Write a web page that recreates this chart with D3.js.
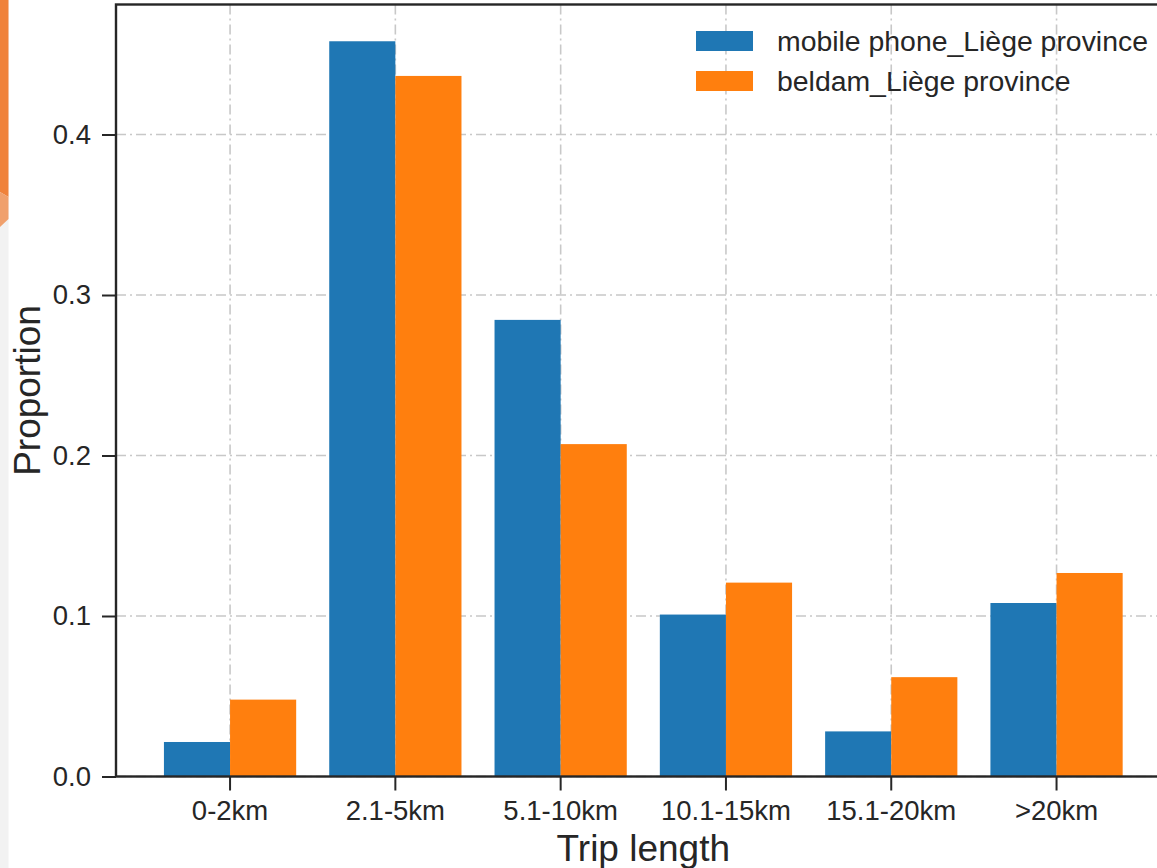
<!DOCTYPE html>
<html>
<head>
<meta charset="utf-8">
<script src="https://cdn.jsdelivr.net/npm/d3@7/dist/d3.min.js"></script>
<style>
  html, body { margin: 0; padding: 0; background: #ffffff; }
  svg { display: block; font-family: "Liberation Sans", Arial, Helvetica, sans-serif; }
</style>
</head>
<body>
<svg id="chart" width="1157" height="868"></svg>
<script>
// Trip length distribution, Liège province
const categories = ["0-2km", "2.1-5km", "5.1-10km", "10.1-15km", "15.1-20km", ">20km"];
const seriesNames = ["mobile phone_Liège province", "beldam_Liège province"];
const mobilePhone = [0.0215, 0.4581, 0.2845, 0.1009, 0.0281, 0.1081];
const beldam = [0.0479, 0.4365, 0.2071, 0.1208, 0.0619, 0.1268];
const yTicks = [0.0, 0.1, 0.2, 0.3, 0.4];
const colors = ["#1f77b4", "#ff7f0e"];

const svg = d3.select("#chart");
const ink = "#262626";

// page edge decoration
svg.append("rect").attr("x", 0).attr("y", 0).attr("width", 8.5).attr("height", 868).attr("fill", "#f2f2f2");
svg.append("polygon").attr("points", "0,0 8.5,0 8.5,197 0,192").attr("fill", "#f0823a");
svg.append("polygon").attr("points", "0,192 8.5,197 8.5,219 0,227").attr("fill", "#f0a06c");

const plot = { left: 116, right: 1170.6, top: 4.5, bottom: 776.5 };

const x = d3.scaleBand()
  .domain(categories)
  .range([plot.left, plot.right])
  .paddingInner(0.2)
  .paddingOuter(0.29);

const xSub = d3.scaleBand()
  .domain(seriesNames)
  .range([0, x.bandwidth()])
  .padding(0);

const yMax = d3.max(mobilePhone.concat(beldam)) * 1.05;
const y = d3.scaleLinear().domain([0, yMax]).range([plot.bottom, plot.top]);

// grid (behind bars)
const grid = svg.append("g").attr("class", "grid")
  .attr("stroke", "#c8c8c8").attr("stroke-width", 1.6).attr("stroke-dasharray", "10,4,2,4");
grid.selectAll("line.h").data(yTicks).join("line").attr("class", "h")
  .attr("x1", plot.left).attr("x2", plot.right)
  .attr("y1", d => y(d)).attr("y2", d => y(d));
grid.selectAll("line.v").data(categories).join("line").attr("class", "v")
  .attr("x1", d => x(d) + x.bandwidth() / 2).attr("x2", d => x(d) + x.bandwidth() / 2)
  .attr("y1", plot.top).attr("y2", plot.bottom);

// bars
const rows = categories.map((c, i) => ({ cat: c, values: [mobilePhone[i], beldam[i]] }));
const groups = svg.append("g").selectAll("g").data(rows).join("g")
  .attr("transform", d => `translate(${x(d.cat)},0)`);
groups.selectAll("rect").data(d => d.values.map((v, k) => ({ name: seriesNames[k], v, k })))
  .join("rect")
  .attr("x", d => xSub(d.name))
  .attr("width", xSub.bandwidth())
  .attr("y", d => y(d.v))
  .attr("height", d => y(0) - y(d.v))
  .attr("fill", d => colors[d.k]);

// axes
const xAxis = svg.append("g").attr("transform", `translate(0,${plot.bottom})`)
  .call(d3.axisBottom(x).tickSize(14).tickPadding(10).tickSizeOuter(0));
const yAxis = svg.append("g").attr("transform", `translate(${plot.left},0)`)
  .call(d3.axisLeft(y).tickValues(yTicks).tickFormat(d3.format(".1f")).tickSize(14).tickPadding(11).tickSizeOuter(0));

[xAxis, yAxis].forEach(a => {
  a.select(".domain").remove();
  a.selectAll(".tick line").attr("stroke", ink).attr("stroke-width", 2);
  a.selectAll(".tick text").attr("fill", ink).style("font-size", "27.5px")
    .style("font-family", "'Liberation Sans', Arial, Helvetica, sans-serif");
});

// spines (right one runs off the page edge)
svg.append("rect")
  .attr("x", plot.left).attr("y", plot.top)
  .attr("width", plot.right - plot.left).attr("height", plot.bottom - plot.top)
  .attr("fill", "none").attr("stroke", ink).attr("stroke-width", 2.4);

// axis titles
svg.append("text")
  .attr("x", (plot.left + plot.right) / 2).attr("y", 861)
  .attr("text-anchor", "middle").attr("fill", ink).style("font-size", "37px")
  .text("Trip length");
svg.append("text")
  .attr("transform", `translate(40,${(plot.top + plot.bottom) / 2}) rotate(-90)`)
  .attr("text-anchor", "middle").attr("fill", ink).style("font-size", "37px")
  .text("Proportion");

// legend
const legend = svg.append("g").attr("transform", "translate(696,0)");
const legendRows = legend.selectAll("g").data(seriesNames).join("g")
  .attr("transform", (d, i) => `translate(0,${41 + i * 40})`);
legendRows.append("rect")
  .attr("x", 0).attr("y", -10).attr("width", 57).attr("height", 20)
  .attr("fill", (d, i) => colors[i]);
legendRows.append("text")
  .attr("x", 81).attr("y", 0).attr("dy", "0.35em")
  .attr("fill", ink).style("font-size", "28.4px")
  .text(d => d);
</script>
</body>
</html>
